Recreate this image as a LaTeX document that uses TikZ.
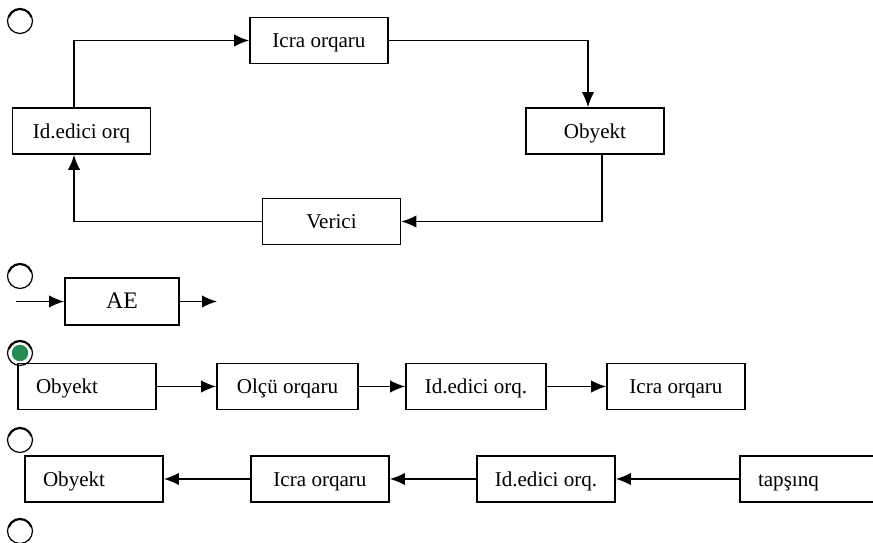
\documentclass[tikz,border=0pt]{standalone}
\usepackage{fontspec}
\setmainfont{Liberation Serif}
\usetikzlibrary{arrows.meta}
\definecolor{radiogreen}{RGB}{38,140,84}
\begin{document}
\begin{tikzpicture}[x=0.02cm, y=-0.02cm, >={Latex[length=8.5pt,width=7pt]}, line width=0.9pt,
  box/.style={draw, line width=0.95pt, minimum width=2.76cm, minimum height=0.92cm, inner sep=0pt, text height=2.2ex, text depth=0.4ex, font=\fontsize{12}{14}\selectfont},
  leftbox/.style={box, inner xsep=0.36cm, text width=2.04cm, align=left},
  radio/.style={circle, draw, line width=0.7pt, minimum size=0.5cm, inner sep=0pt,
    path picture={\draw[line width=1.8pt] ([shift={(160:0.25cm)}]path picture bounding box.center) arc[start angle=160, end angle=20, radius=0.25cm];}},
  dot/.style={circle, fill=radiogreen, minimum size=0.33cm, inner sep=0pt}]
\useasboundingbox (0,0) rectangle (873,543);
% first choice: closed loop
\node[radio] (r1) at (20,21) {};
\node[box] (icra1) at (319,40.5) {Icra orqaru};
\node[box] (idq1) at (81.5,131) {Id.edici orq};
\node[box] (obj1) at (595,131) {Obyekt};
\node[box] (ver1) at (331.5,221.5) {Verici};
\draw[->] ([xshift=-4.25pt]idq1.north) |- (icra1.west);
\draw[->] (icra1.east) -| ([xshift=-4pt]obj1.north);
\draw[->] ([xshift=4pt]obj1.south) |- (ver1.east);
\draw[->] (ver1.west) -| ([xshift=-4.25pt]idq1.south);
% second choice
\node[radio] (r2) at (20,276) {};
\node[box, minimum width=2.28cm, minimum height=0.94cm, font=\fontsize{13.5}{15}\selectfont] (ae) at (122,301.5) {AE};
\coordinate (aein) at (16,301.5);
\coordinate (aeout) at (217,301.5);
\draw[->] (aein) -- (ae);
\draw[->] (ae) -- (aeout);
% third choice (marked)
\node[radio] (r3) at (20,353) {};
\node[dot] (d3) at (20,353) {};
\node[leftbox] (obj3) at (87,386.5) {Obyekt};
\node[box, minimum width=2.82cm] (olc3) at (287.5,386.5) {Olçü orqaru};
\node[box, minimum width=2.8cm] (idq3) at (476,386.5) {Id.edici orq.};
\node[box] (icra3) at (676,386.5) {Icra orqaru};
\draw[->] (obj3) -- (olc3);
\draw[->] (olc3) -- (idq3);
\draw[->] (idq3) -- (icra3);
% fourth choice
\node[radio] (r4) at (20,440) {};
\node[leftbox] (obj4) at (94,479) {Obyekt};
\node[box] (icra4) at (320,479) {Icra orqaru};
\node[box] (idq4) at (546,479) {Id.edici orq.};
\node[leftbox, text width=2.08cm] (tap4) at (810,479) {tapşınq};
\draw[->] (tap4) -- (idq4);
\draw[->] (idq4) -- (icra4);
\draw[->] (icra4) -- (obj4);
% fifth choice
\node[radio] (r5) at (20,531) {};
\end{tikzpicture}
\end{document}
